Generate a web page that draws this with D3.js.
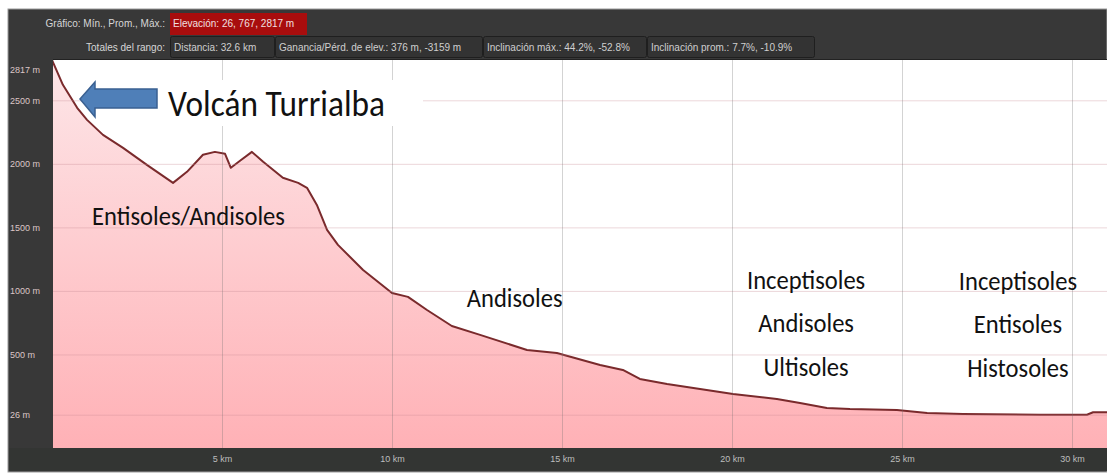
<!DOCTYPE html>
<html>
<head>
<meta charset="utf-8">
<script src="https://cdn.jsdelivr.net/npm/d3@7"></script>
<style>
  body { margin: 0; background: #fff; }
  svg { display: block; }
</style>
</head>
<body>
<svg id="chart" width="1107" height="475"></svg>
<script>
// ---------------- données ----------------
const distKm = [0, 0.32, 0.74, 1.03, 1.5, 2.09, 2.79, 3.56, 3.97, 4.44, 4.79, 5.09, 5.26, 5.53, 5.88, 6.21,
  6.79, 7.24, 7.5, 7.79, 8.09, 8.41, 9.15, 10.0, 10.47, 11.03, 11.76, 12.59, 13.97, 14.85, 16.12,
  16.79, 17.29, 18.09, 19.06, 20.03, 21.32, 22.0, 22.79, 23.47, 24.85, 25.74, 26.79, 29.06, 30.44,
  30.62, 31.1]
const elevM = [2817, 2622, 2441, 2346, 2228, 2126, 1992, 1850, 1937, 2071, 2094, 2079, 1969, 2024, 2094, 2016,
  1890, 1850, 1811, 1677, 1480, 1362, 1165, 984, 953, 850, 724, 654, 535, 512, 417,
  378, 307, 268, 228, 189, 150, 118, 79, 71, 63, 39, 32, 26, 26,
  45, 45]

const yTicks = [26, 500, 1000, 1500, 2000, 2500]
const yMax = 2817
const xTicks = [5, 10, 15, 20, 25, 30]
const totalKm = 32.6

const headerRow1Label = "Gráfico: Mín., Prom., Máx.:"
const headerRow1Value = "Elevación: 26, 767, 2817 m"
const headerRow2Label = "Totales del rango:"
const headerRow2Values = ["Distancia: 32.6 km", "Ganancia/Pérd. de elev.: 376 m, -3159 m",
  "Inclinación máx.: 44.2%, -52.8%", "Inclinación prom.: 7.7%, -10.9%"]

// étiquettes des sols (km, altitude de la ligne de base)
const volcanLabel = "Volcán Turrialba"
const soilLabels = [
  {lines: ["Entisoles/Andisoles"], km: 1.18, elev: 1520, anchor: "start"},
  {lines: ["Andisoles"], km: 12.2, elev: 874, anchor: "start"},
  {lines: ["Inceptisoles", "Andisoles", "Ultisoles"], km: 22.18, elev: 1016, anchor: "middle"},
  {lines: ["Inceptisoles", "Entisoles", "Histosoles"], km: 28.41, elev: 1008, anchor: "middle"}
]

// ---------------- mise en page ----------------
const W = 1107, H = 475
const plot = {left: 53, top: 60, right: 1107, bottom: 448}
const svg = d3.select("#chart")

const x = d3.scaleLinear().domain([0, totalKm]).range([52, 52 + totalKm * 34])
const y = d3.scaleLinear().domain([-236, yMax]).range([plot.bottom, plot.top])

const narrow = "'Liberation Sans Narrow', 'Arial Narrow', sans-serif"
const calibri = "Carlito, Calibri, Lato, sans-serif"

// cadre sombre
svg.append("rect").attr("x", 8).attr("y", 9).attr("width", W - 8).attr("height", 463)
  .attr("fill", "#383838").attr("stroke", "#9a9a9a").attr("stroke-width", 1)
svg.append("rect").attr("x", 9).attr("y", 448).attr("width", W - 9).attr("height", 23).attr("fill", "#333533")

// en-tête
const head = svg.append("g").style("font-family", narrow).style("font-size", "10px")
head.append("text").attr("x", 165).attr("y", 27).attr("text-anchor", "end")
  .attr("fill", "#d6d6d6").text(headerRow1Label)
head.append("rect").attr("x", 170).attr("y", 13).attr("width", 137).attr("height", 22).attr("fill", "#a80d0d")
head.append("text").attr("x", 173).attr("y", 27).attr("fill", "#f0e0e0").text(headerRow1Value)
head.append("text").attr("x", 165).attr("y", 51).attr("text-anchor", "end")
  .attr("fill", "#d6d6d6").text(headerRow2Label)

const boxW = [105, 208, 164, 168]
let bx = 170
headerRow2Values.forEach(function (t, i) {
  head.append("rect").attr("x", bx + 0.5).attr("y", 36.5).attr("width", boxW[i] - 1).attr("height", 21)
    .attr("rx", 2).attr("fill", "#333").attr("stroke", "#1f1f1f")
  head.append("text").attr("x", bx + 4).attr("y", 51).attr("fill", "#cfcfcf").text(t)
  bx += boxW[i]
})
svg.append("line").attr("x1", 53).attr("x2", W).attr("y1", 59.5).attr("y2", 59.5).attr("stroke", "#222")

// zone du graphique
svg.append("clipPath").attr("id", "clip").append("rect")
  .attr("x", plot.left).attr("y", plot.top)
  .attr("width", plot.right - plot.left).attr("height", plot.bottom - plot.top)
svg.append("rect").attr("x", plot.left).attr("y", plot.top)
  .attr("width", plot.right - plot.left).attr("height", plot.bottom - plot.top).attr("fill", "#fff")

const defs = svg.append("defs")
const grad = defs.append("linearGradient").attr("id", "pinkFill")
  .attr("gradientUnits", "userSpaceOnUse").attr("x1", 0).attr("x2", 0)
  .attr("y1", plot.top).attr("y2", plot.bottom)
grad.append("stop").attr("offset", "0%").attr("stop-color", "#fde6e8")
grad.append("stop").attr("offset", "100%").attr("stop-color", "#ffb1b6")

const g = svg.append("g").attr("clip-path", "url(#clip)")
const data = distKm.map((d, i) => ({km: d, m: elevM[i]}))

g.append("path").datum(data)
  .attr("fill", "url(#pinkFill)")
  .attr("d", d3.area().x(d => x(d.km)).y0(plot.bottom).y1(d => y(d.m)))

// grilles
const yAxis = svg.append("g").attr("transform", "translate(" + plot.left + ",0)")
  .call(d3.axisLeft(y).tickValues(yTicks).tickSize(-(plot.right - plot.left)).tickFormat(d => d + " m"))
yAxis.select(".domain").remove()
yAxis.selectAll(".tick line").attr("stroke", "rgba(200,140,150,0.35)")
yAxis.selectAll(".tick text").attr("x", 10 - plot.left).attr("text-anchor", "start")
  .attr("fill", "#dcc6c6").style("font-family", narrow).style("font-size", "9px")
yAxis.append("text").attr("x", 10 - plot.left).attr("y", y(yMax) + 10).attr("dy", "0.32em")
  .attr("text-anchor", "start")
  .attr("fill", "#dcc6c6").style("font-family", narrow).style("font-size", "9px").text(yMax + " m")

const xAxis = svg.append("g").attr("transform", "translate(0," + plot.bottom + ")")
  .call(d3.axisBottom(x).tickValues(xTicks).tickSize(-(plot.bottom - plot.top)).tickPadding(8)
    .tickFormat(d => d + " km"))
xAxis.select(".domain").remove()
xAxis.selectAll(".tick line").attr("stroke", "rgba(110,110,110,0.3)")
xAxis.selectAll(".tick text").attr("fill", "#bdbdbd").style("font-family", narrow).style("font-size", "9px")

// courbe
g.append("path").datum(data)
  .attr("fill", "none").attr("stroke", "#7a2a2c").attr("stroke-width", 2).attr("stroke-linejoin", "round")
  .attr("d", d3.line().x(d => x(d.km)).y(d => y(d.m)))

// annotation volcan
svg.append("rect").attr("x", 150).attr("y", 80).attr("width", 273).attr("height", 46).attr("fill", "#fff")
svg.append("path")
  .attr("d", "M80,99 L95,82 L95,89 L157,89 L157,108 L95,108 L95,117 Z")
  .attr("fill", "#4f7fb8").attr("stroke", "#3a6091").attr("stroke-width", 1.5)
svg.append("text").attr("x", 168).attr("y", 116)
  .attr("textLength", 217).attr("lengthAdjust", "spacingAndGlyphs")
  .style("font-family", calibri).style("font-size", "37px").attr("fill", "#111").text(volcanLabel)

// étiquettes des sols (un peu condensées comme dans l'original)
soilLabels.forEach(function (s) {
  s.lines.forEach(function (t, i) {
    const txt = svg.append("text").attr("x", x(s.km)).attr("y", y(s.elev) + i * 43.5)
      .attr("text-anchor", s.anchor)
      .style("font-family", calibri).style("font-size", "27px").attr("fill", "#111")
      .text(t)
    const len = txt.node().getComputedTextLength()
    txt.attr("textLength", len * 0.91).attr("lengthAdjust", "spacingAndGlyphs")
  })
})
</script>
</body>
</html>
